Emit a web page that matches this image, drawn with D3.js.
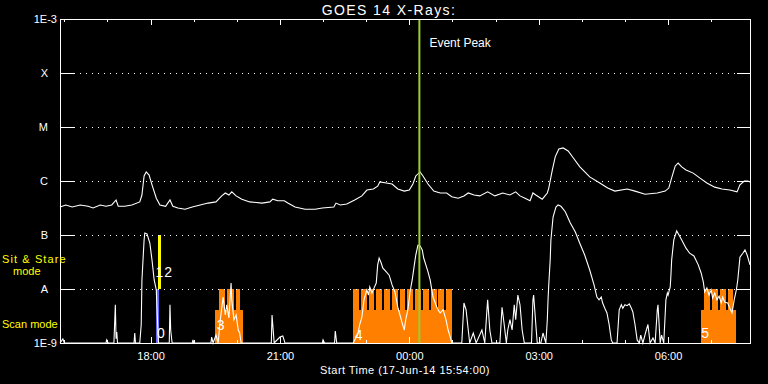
<!DOCTYPE html>
<html>
<head>
<meta charset="utf-8">
<script src="https://cdn.jsdelivr.net/npm/d3@7/dist/d3.min.js"></script>
<style>
  html, body { margin: 0; padding: 0; background: #000; }
  svg { display: block; }
  text { font-family: "Liberation Sans", Arial, sans-serif; fill: #fff; }
</style>
</head>
<body>
<div id="chart"></div>
<script>
// times are minutes after the start time (17-Jun-14 15:54:00), flux in W/m^2
const longChannel = [
  [0,3.3e-7],[8,3.6e-7],[17,3.3e-7],[28,3.6e-7],[39,3.4e-7],[46,3.16e-7],[56,3.6e-7],[64,3.4e-7],
  [72,3.6e-7],[78,4.45e-7],[81,3.4e-7],[90,3.4e-7],[100,3.6e-7],[111,4.1e-7],[114,5.5e-7],[117,1.24e-6],
  [120,1.47e-6],[124,1.29e-6],[128,8.5e-7],[134,4.8e-7],[139,3.6e-7],[147,3.4e-7],[153,4.45e-7],[157,3.4e-7],
  [164,3.16e-7],[174,3.0e-7],[184,3.3e-7],[195,3.6e-7],[206,3.9e-7],[217,4.1e-7],[225,5.3e-7],[230,6.0e-7],
  [235,5.5e-7],[239,6.3e-7],[245,5.3e-7],[253,4.6e-7],[264,4.1e-7],[281,3.9e-7],[292,4.1e-7],[296,4.6e-7],
  [303,4.3e-7],[312,4.3e-7],[317,3.9e-7],[327,3.3e-7],[341,3.0e-7],[355,3.0e-7],[365,3.16e-7],[381,3.3e-7],
  [384,3.9e-7],[390,3.6e-7],[399,3.75e-7],[410,4.45e-7],[420,5.3e-7],[427,6.8e-7],[436,7.1e-7],[442,8.0e-7],
  [445,9.6e-7],[454,9.2e-7],[462,8.8e-7],[470,7.1e-7],[479,6.5e-7],[486,6.8e-7],[491,8.8e-7],[495,1.24e-6],
  [501,1.47e-6],[505,1.24e-6],[512,8.8e-7],[520,6.5e-7],[529,6.0e-7],[538,6.0e-7],[545,5.1e-7],[554,4.8e-7],
  [562,5.3e-7],[568,6.0e-7],[576,5.5e-7],[584,5.3e-7],[595,6.3e-7],[605,5.3e-7],[616,6.0e-7],[626,5.5e-7],
  [634,6.3e-7],[640,5.3e-7],[647,4.8e-7],[654,4.3e-7],[658,6.0e-7],[662,5.5e-7],[671,4.6e-7],[678,6.0e-7],
  [680,7.4e-7],[685,1.6e-6],[689,2.8e-6],[694,3.9e-6],[700,4.1e-6],[707,3.6e-6],[714,2.7e-6],[723,1.85e-6],
  [737,1.19e-6],[751,9.2e-7],[762,7.4e-7],[772,6.5e-7],[789,7.1e-7],[800,6.5e-7],[814,5.7e-7],[831,6.0e-7],
  [842,6.5e-7],[847,7.4e-7],[851,1.14e-6],[856,1.9e-6],[860,2.15e-6],[865,1.82e-6],[871,1.6e-6],[881,1.4e-6],
  [890,1.14e-6],[900,9.2e-7],[911,7.7e-7],[921,7.1e-7],[932,6.8e-7],[942,6.3e-7],[946,8.5e-7],[952,1.0e-6],
  [957,1.0e-6],[960,9.6e-7]
];

const shortChannel = [
  [0,1e-9],[4,1.19e-9],[6,1e-9],[64,1e-9],[65,1.14e-9],[67,1e-9],[75,1e-9],[77,5.1e-9],[78,1.2e-9],
  [79,1.6e-9],[80,1e-9],[103,1e-9],[104,1.53e-9],[105,1e-9],[111,1e-9],[113,2.2e-9],[114,1.47e-8],
  [117,8.1e-8],[118,1.09e-7],[121,1.05e-7],[125,7.1e-8],[128,3.44e-8],[131,1.47e-8],[134,9.6e-9],
  [135,4.1e-9],[137,1e-9],[152,1e-9],[153,5.1e-9],[154,1.74e-9],[156,1e-9],[184,1e-9],[185,1.14e-9],
  [186,1e-9],[210,1e-9],[211,1.29e-9],[213,1e-9],[217,1.4e-9],[220,1e-9],[223,2.7e-9],[227,7.1e-9],
  [230,3.3e-9],[232,5.1e-9],[235,2.9e-9],[238,1.29e-8],[239,6.3e-9],[242,2.7e-9],[245,3.3e-9],
  [248,1.74e-9],[250,1.53e-9],[252,1e-9],[294,1e-9],[295,3.3e-9],[296,2.2e-9],[298,1e-9],[306,1.29e-9],
  [310,1.35e-9],[313,1e-9],[365,1e-9],[366,1.14e-9],[368,1e-9],[382,1e-9],[383,1.67e-9],[385,1e-9],
  [408,1e-9],[410,1.14e-9],[414,1.4e-9],[417,2.2e-9],[420,3.0e-9],[423,6.3e-9],[426,8.8e-9],[427,9.6e-9],
  [429,7.7e-9],[431,1.09e-8],[434,8.4e-9],[437,1.05e-8],[440,1.29e-8],[442,2.8e-8],[444,3.75e-8],
  [447,3.0e-8],[449,2.45e-8],[454,2.07e-8],[458,1.8e-8],[462,1.19e-8],[466,8.8e-9],[470,4.6e-9],
  [473,3.3e-9],[476,2.35e-9],[479,1.74e-9],[481,2.7e-9],[484,4.1e-9],[487,8.8e-9],[490,1.47e-8],
  [493,2.8e-8],[495,4.26e-8],[498,6.5e-8],[501,6.3e-8],[504,5.3e-8],[506,3.75e-8],[509,2.8e-8],
  [512,2.07e-8],[515,1.47e-8],[519,7.1e-9],[523,5.1e-9],[526,4.1e-9],[529,3.6e-9],[533,4.1e-9],
  [537,2.7e-9],[540,1.74e-9],[543,1.29e-9],[545,1e-9],[559,1e-9],[562,5.5e-9],[565,4.1e-9],[568,1.74e-9],
  [570,1e-9],[575,1.53e-9],[579,1e-9],[587,1.74e-9],[591,1e-9],[594,4.1e-9],[595,6.3e-9],[598,1.74e-9],
  [601,1e-9],[612,1e-9],[615,4.6e-9],[618,2.2e-9],[621,1e-9],[623,1.74e-9],[626,2.7e-9],[629,1.74e-9],
  [632,5.1e-9],[634,2.7e-9],[637,7.7e-9],[640,5.1e-9],[643,1.74e-9],[646,1e-9],[656,1e-9],[658,6.3e-9],
  [659,7.7e-9],[662,2.2e-9],[664,1e-9],[669,1e-9],[672,1.53e-9],[676,1e-9],[678,2.7e-9],[679,6.3e-9],
  [680,1.19e-8],[682,3.44e-8],[683,8.1e-8],[686,2.15e-7],[690,3.3e-7],[693,3.6e-7],[697,3.4e-7],
  [703,2.7e-7],[710,1.67e-7],[717,1.14e-7],[723,7.1e-8],[730,4.26e-8],[737,2.25e-8],[743,1.19e-8],
  [747,7.1e-9],[750,6.3e-9],[753,7.1e-9],[755,5.5e-9],[758,4.4e-9],[761,3.6e-9],[764,2.2e-9],[767,1.14e-9],
  [769,1e-9],[775,1e-9],[778,4.1e-9],[781,5.1e-9],[783,4.4e-9],[786,5.1e-9],[789,4.9e-9],[792,5.3e-9],
  [795,4.4e-9],[797,3.75e-9],[800,2.2e-9],[803,1.14e-9],[806,1e-9],[808,1.4e-9],[811,1e-9],[815,1.6e-9],
  [818,2.2e-9],[821,1e-9],[825,1.24e-9],[828,1e-9],[831,4.1e-9],[832,5.1e-9],[835,1e-9],[837,1.4e-9],
  [840,1e-9],[843,6.3e-9],[845,8.4e-9],[846,7.7e-9],[849,1.09e-8],[850,1.82e-8],[851,3.44e-8],[854,8.1e-8],
  [858,1.19e-7],[862,9.6e-8],[865,8.1e-8],[871,5.7e-8],[876,4.6e-8],[882,4.1e-8],[888,2.8e-8],[892,1.98e-8],
  [895,1.35e-8],[897,8.8e-9],[900,1.05e-8],[903,7.7e-9],[906,9.6e-9],[908,6.8e-9],[911,8.4e-9],[914,6.3e-9],
  [917,7.4e-9],[920,5.5e-9],[922,7.1e-9],[925,5.7e-9],[929,5.5e-9],[932,4.4e-9],[935,3.6e-9],[938,6.3e-9],
  [941,9.6e-9],[943,1.47e-8],[945,2.8e-8],[946,3.9e-8],[950,4.6e-8],[953,5.3e-8],[956,4.26e-8],[960,2.8e-8]
];

// scan mode observations: [start, end] minutes
const scanBlocks = [[216,255],[408,545],[892,940]];
const scanSlots = [
  [221,230],[233,242],[245,250],
  [408,416],[419,427],[430,437],[440,448],[451,459],[462,470],[473,480],
  [483,491],[494,502],[505,513],[516,524],[526,534],[537,545],
  [896,904],[907,915],[918,927],[929,936]
];
const scanBlockLevel = 4e-9;
const scanSlotLevel = 1e-8;
const blueScan = [[133,138]];
const sitStare = [[136,141]];
const sitStareLevels = [1e-8, 1e-7];

// observation sequence numbers: [label, minute, flux]
const seqLabels = [["0",135,1.24e-9],["1",133,1.67e-8],["2",145,1.67e-8],["3",218,1.74e-9],["4",410,1.14e-9],["5",892,1.24e-9]];

const eventPeakMinute = 500;
const fluxLevels = [1e-3,1e-4,1e-5,1e-6,1e-7,1e-8,1e-9];
const levelLabels = ["1E-3","X","M","C","B","A","1E-9"];

const startTime = new Date(2014, 5, 17, 15, 54);
const spanMinutes = 960;
const toDate = m => new Date(startTime.getTime() + m * 60000);

const width = 768, height = 384;
const margin = { top: 19, right: 18, bottom: 41, left: 60 };

const svg = d3.select('#chart').append('svg')
  .attr('width', width)
  .attr('height', height)
  .style('background', '#000');

const x = d3.scaleTime()
  .domain([startTime, toDate(spanMinutes)])
  .range([margin.left, width - margin.right]);

const y = d3.scaleLog()
  .domain([1e-9, 1e-3])
  .range([height - margin.bottom, margin.top])
  .clamp(true);

const x0 = margin.left, x1 = width - margin.right;
const y0 = height - margin.bottom, y1 = margin.top;

// scan mode bars
svg.append('g').selectAll('rect')
  .data(scanBlocks)
  .enter().append('rect')
  .attr('x', d => x(toDate(d[0])))
  .attr('width', d => x(toDate(d[1])) - x(toDate(d[0])))
  .attr('y', y(scanBlockLevel))
  .attr('height', y0 - y(scanBlockLevel))
  .attr('fill', '#ff8000')
  .attr('shape-rendering', 'crispEdges');

svg.append('g').selectAll('rect')
  .data(scanSlots)
  .enter().append('rect')
  .attr('x', d => x(toDate(d[0])))
  .attr('width', d => x(toDate(d[1])) - x(toDate(d[0])))
  .attr('y', y(scanSlotLevel))
  .attr('height', y0 - y(scanSlotLevel))
  .attr('fill', '#ff8000')
  .attr('shape-rendering', 'crispEdges');

svg.append('g').selectAll('rect')
  .data(blueScan)
  .enter().append('rect')
  .attr('x', d => x(toDate(d[0])))
  .attr('width', d => x(toDate(d[1])) - x(toDate(d[0])))
  .attr('y', y(scanSlotLevel))
  .attr('height', y0 - y(scanSlotLevel))
  .attr('fill', '#6464ff')
  .attr('shape-rendering', 'crispEdges');

svg.append('g').selectAll('rect')
  .data(sitStare)
  .enter().append('rect')
  .attr('x', d => x(toDate(d[0])))
  .attr('width', d => x(toDate(d[1])) - x(toDate(d[0])))
  .attr('y', y(sitStareLevels[1]))
  .attr('height', y(sitStareLevels[0]) - y(sitStareLevels[1]))
  .attr('fill', '#ffff00')
  .attr('shape-rendering', 'crispEdges');

// dotted grid lines
svg.append('g').selectAll('line')
  .data(fluxLevels.slice(1, -1))
  .enter().append('line')
  .attr('x1', x0 + 14).attr('x2', x1 - 13)
  .attr('y1', d => Math.round(y(d)) + 0.5).attr('y2', d => Math.round(y(d)) + 0.5)
  .attr('stroke', '#fff')
  .attr('stroke-dasharray', '1,5');

// level ticks on both sides
svg.append('g').selectAll('line')
  .data(fluxLevels)
  .enter().append('line')
  .attr('x1', x0).attr('x2', x0 + 14)
  .attr('y1', d => Math.round(y(d)) + 0.5).attr('y2', d => Math.round(y(d)) + 0.5)
  .attr('stroke', '#fff');
svg.append('g').selectAll('line')
  .data(fluxLevels)
  .enter().append('line')
  .attr('x1', x1 - 13).attr('x2', x1)
  .attr('y1', d => Math.round(y(d)) + 0.5).attr('y2', d => Math.round(y(d)) + 0.5)
  .attr('stroke', '#fff');

// level labels
svg.append('g').selectAll('text')
  .data(fluxLevels)
  .enter().append('text')
  .attr('x', (d, i) => levelLabels[i].length > 1 ? 57 : 48)
  .attr('y', d => y(d) + 4)
  .attr('text-anchor', 'end')
  .style('font-size', '11px')
  .text((d, i) => levelLabels[i]);

// light curves
const line = d3.line()
  .x(d => x(toDate(d[0])))
  .y(d => y(d[1]));

svg.append('path')
  .datum(longChannel)
  .attr('d', line)
  .attr('fill', 'none')
  .attr('stroke', '#fff')
  .attr('stroke-width', 1.1);

svg.append('path')
  .datum(shortChannel)
  .attr('d', line)
  .attr('fill', 'none')
  .attr('stroke', '#fff')
  .attr('stroke-width', 1.1);

// sequence numbers
svg.append('g').selectAll('text')
  .data(seqLabels)
  .enter().append('text')
  .attr('x', d => x(toDate(d[1])))
  .attr('y', d => y(d[2]))
  .style('font-size', '14px')
  .text(d => d[0]);

// event peak marker
svg.append('line')
  .attr('x1', x(toDate(eventPeakMinute))).attr('x2', x(toDate(eventPeakMinute)))
  .attr('y1', y1).attr('y2', y0)
  .attr('stroke', '#9acd32')
  .attr('stroke-width', 2);

svg.append('text')
  .attr('x', x(toDate(eventPeakMinute)) + 10)
  .attr('y', 47)
  .style('font-size', '12px')
  .text('Event Peak');

// frame
svg.append('rect')
  .attr('x', x0 + 0.5).attr('y', y1 + 0.5)
  .attr('width', x1 - x0).attr('height', y0 - y1)
  .attr('fill', 'none')
  .attr('stroke', '#fff');

// time ticks (hourly minor, 3-hourly major) on top and bottom
const hourTicks = x.ticks(d3.timeHour.every(1));
const isMajor = d => d.getHours() % 3 === 0;

svg.append('g').selectAll('line')
  .data(hourTicks)
  .enter().append('line')
  .attr('x1', d => Math.round(x(d)) + 0.5).attr('x2', d => Math.round(x(d)) + 0.5)
  .attr('y1', y1).attr('y2', d => y1 + (isMajor(d) ? 6 : 3))
  .attr('stroke', '#fff');
svg.append('g').selectAll('line')
  .data(hourTicks)
  .enter().append('line')
  .attr('x1', d => Math.round(x(d)) + 0.5).attr('x2', d => Math.round(x(d)) + 0.5)
  .attr('y1', y0).attr('y2', d => y0 - (isMajor(d) ? 6 : 3))
  .attr('stroke', '#fff');

const xAxis = svg.append('g')
  .attr('transform', `translate(0,${y0})`)
  .call(d3.axisBottom(x).ticks(d3.timeHour.every(3)).tickFormat(d3.timeFormat('%H:%M')).tickSize(0).tickPadding(9));
xAxis.select('.domain').remove();
xAxis.selectAll('text')
  .attr('fill', '#fff')
  .style('font-family', '"Liberation Sans", Arial, sans-serif')
  .style('font-size', '11px');

// titles
svg.append('text')
  .attr('x', 389).attr('y', 15)
  .attr('text-anchor', 'middle')
  .style('font-size', '14px')
  .style('letter-spacing', '1.4px')
  .text('GOES 14 X-Rays:');

svg.append('text')
  .attr('x', 405).attr('y', 374)
  .attr('text-anchor', 'middle')
  .style('font-size', '11px')
  .style('letter-spacing', '0.45px')
  .text('Start Time (17-Jun-14 15:54:00)');

// mode labels
svg.append('text')
  .attr('x', 2).attr('y', 263)
  .style('font-size', '11px')
  .style('letter-spacing', '1.1px')
  .style('fill', '#ffff00')
  .text('Sit & Stare');
svg.append('text')
  .attr('x', 13).attr('y', 275)
  .style('font-size', '11px')
  .style('fill', '#ffff00')
  .text('mode');
svg.append('text')
  .attr('x', 2).attr('y', 328)
  .style('font-size', '11px')
  .style('fill', '#ffff00')
  .text('Scan mode');
</script>
</body>
</html>
